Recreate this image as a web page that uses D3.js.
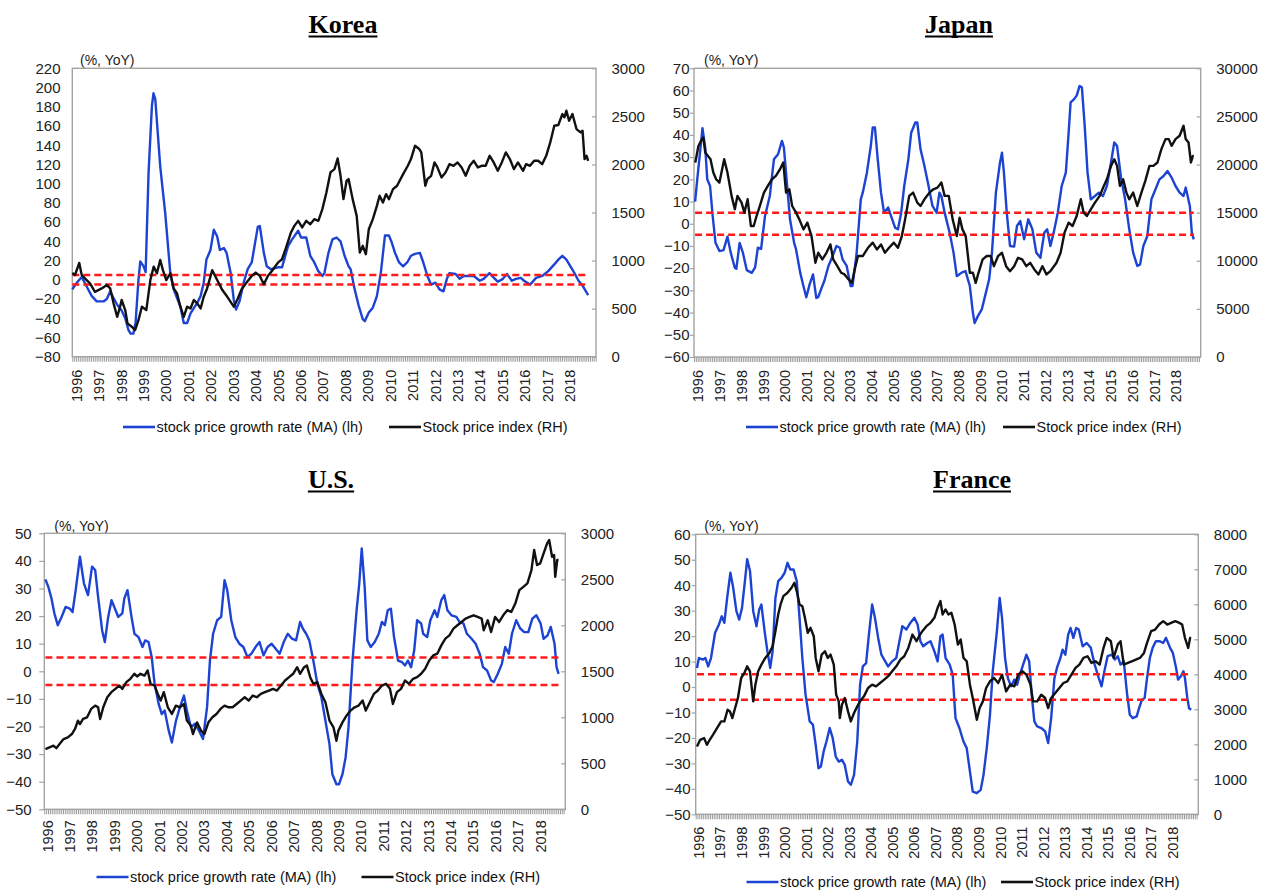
<!DOCTYPE html>
<html><head><meta charset="utf-8">
<script src="https://cdn.jsdelivr.net/npm/d3@7"></script>
<style>
html,body{margin:0;padding:0;background:#fff;}
svg{display:block;}
</style></head><body>
<svg id="c" width="1264" height="891"></svg>
<script>
// ---------------- DATA (time in decimal years, value) ----------------
const years = [1996,1997,1998,1999,2000,2001,2002,2003,2004,2005,2006,2007,2008,2009,2010,2011,2012,2013,2014,2015,2016,2017,2018];
const bands = [5,-5];

const korLeftTicks = [-80,-60,-40,-20,0,20,40,60,80,100,120,140,160,180,200,220];
const korRightTicks = [0,500,1000,1500,2000,2500,3000];
const jpnLeftTicks = [-60,-50,-40,-30,-20,-10,0,10,20,30,40,50,60,70];
const jpnRightTicks = [0,5000,10000,15000,20000,25000,30000];
const usLeftTicks = [-50,-40,-30,-20,-10,0,10,20,30,40,50];
const usRightTicks = [0,500,1000,1500,2000,2500,3000];
const fraLeftTicks = [-50,-40,-30,-20,-10,0,10,20,30,40,50,60];
const fraRightTicks = [0,1000,2000,3000,4000,5000,6000,7000,8000];

const korRate = [[1996.00,-10],[1996.20,-3],[1996.42,3],[1996.64,-7],[1996.87,-17],[1997.09,-22.5],[1997.39,-22.5],[1997.54,-20],[1997.69,-12],[1997.84,-19],[1998.0,-26],[1998.2,-32],[1998.36,-40],[1998.5,-52],[1998.6,-56],[1998.72,-56],[1998.82,-45],[1998.95,0],[1999.03,19],[1999.18,14],[1999.27,8],[1999.4,111],[1999.55,181],[1999.62,194],[1999.7,188],[1999.92,118],[2000.14,70],[2000.37,7],[2000.52,-10],[2000.82,-28],[2000.97,-45],[2001.12,-45],[2001.27,-35],[2001.57,-24],[2001.72,-17],[2001.86,-3],[2001.98,21],[2002.16,31],[2002.31,52],[2002.46,45],[2002.58,31],[2002.76,33],[2002.88,28],[2003.06,7],[2003.2,-21],[2003.3,-31],[2003.46,-22],[2003.64,-3],[2003.82,11],[2004.0,18],[2004.27,55],[2004.36,56],[2004.54,28],[2004.67,14],[2004.85,11],[2005.17,13],[2005.35,13],[2005.62,35],[2005.8,42],[2006.07,51],[2006.2,44],[2006.43,44],[2006.61,25],[2006.79,18],[2006.97,9],[2007.15,4],[2007.24,7],[2007.42,28],[2007.6,42],[2007.78,44],[2007.96,40],[2008.14,25],[2008.32,14],[2008.41,11],[2008.59,-10],[2008.77,-27],[2008.95,-41],[2009.04,-43],[2009.22,-34],[2009.4,-29],[2009.58,-17],[2009.76,8],[2009.94,46],[2010.12,46],[2010.24,39],[2010.39,28],[2010.57,18],[2010.75,14],[2010.93,18],[2011.1,25],[2011.28,27],[2011.5,28],[2011.65,18],[2011.83,4],[2012.0,-5],[2012.19,-3],[2012.37,-10],[2012.55,-12],[2012.7,1],[2012.82,7],[2013.09,6],[2013.27,1],[2013.45,4],[2013.63,4],[2013.9,4],[2014.17,-1],[2014.34,1],[2014.6,7],[2014.8,2],[2014.97,-2],[2015.2,1],[2015.38,6],[2015.6,-1],[2015.78,1],[2016.0,2],[2016.14,-1],[2016.41,-5],[2016.68,2],[2016.95,4],[2017.22,9],[2017.49,16],[2017.67,21],[2017.85,25],[2018.03,21],[2018.21,14],[2018.39,7],[2018.57,-1],[2018.75,-6],[2019.0,-16]];

const korIndex = [[1996.0,870],[1996.12,850],[1996.31,975],[1996.42,850],[1996.64,797],[1996.79,762],[1997.01,675],[1997.31,710],[1997.54,745],[1997.69,710],[1997.84,555],[1998.0,415],[1998.13,520],[1998.2,590],[1998.36,485],[1998.46,347],[1998.65,312],[1998.8,277],[1998.95,380],[1999.1,520],[1999.3,485],[1999.48,797],[1999.63,937],[1999.77,867],[1999.92,1006],[2000.04,900],[2000.19,797],[2000.37,867],[2000.52,710],[2000.67,658],[2000.82,520],[2000.97,415],[2001.12,520],[2001.27,502],[2001.42,590],[2001.57,555],[2001.72,502],[2001.86,623],[2002.01,710],[2002.24,900],[2002.46,797],[2002.69,693],[2002.91,623],[2003.2,520],[2003.37,600],[2003.55,701],[2003.77,771],[2004.0,840],[2004.18,875],[2004.36,840],[2004.54,753],[2004.72,840],[2004.9,892],[2005.17,979],[2005.35,1014],[2005.53,1135],[2005.75,1292],[2005.9,1361],[2006.07,1413],[2006.25,1344],[2006.43,1413],[2006.61,1378],[2006.79,1431],[2006.97,1413],[2007.15,1535],[2007.33,1708],[2007.51,1917],[2007.69,1951],[2007.83,2062],[2007.96,1882],[2008.09,1639],[2008.23,1830],[2008.32,1847],[2008.5,1639],[2008.68,1465],[2008.82,1083],[2008.95,1153],[2009.09,1066],[2009.22,1326],[2009.4,1431],[2009.58,1569],[2009.7,1674],[2009.85,1604],[2009.99,1691],[2010.12,1639],[2010.3,1743],[2010.48,1778],[2010.75,1899],[2010.96,1986],[2011.1,2056],[2011.28,2194],[2011.47,2160],[2011.56,2125],[2011.74,1778],[2011.83,1847],[2012.0,1882],[2012.15,2021],[2012.28,1969],[2012.46,1865],[2012.64,1917],[2012.82,2003],[2013.0,1986],[2013.18,2021],[2013.36,1969],[2013.54,1882],[2013.72,1986],[2013.9,2038],[2014.08,1969],[2014.25,1986],[2014.43,1986],[2014.61,2090],[2014.79,2021],[2014.97,1934],[2015.15,2021],[2015.33,2125],[2015.51,2056],[2015.69,1951],[2015.87,2021],[2016.1,1934],[2016.23,2003],[2016.41,1986],[2016.59,2038],[2016.77,2038],[2016.95,2003],[2017.13,2090],[2017.31,2229],[2017.49,2403],[2017.67,2410],[2017.85,2524],[2017.94,2490],[2018.03,2559],[2018.15,2455],[2018.3,2524],[2018.48,2368],[2018.66,2333],[2018.75,2351],[2018.84,2056],[2018.93,2090],[2019.0,2038]];

const jpnRate = [[1996.05,10],[1996.15,20],[1996.39,43],[1996.52,34],[1996.61,20],[1996.74,17],[1996.86,3.5],[1996.99,-8.6],[1997.17,-12.3],[1997.36,-11.9],[1997.54,-5.8],[1997.69,-13],[1997.88,-19.8],[1997.95,-20.3],[1998.1,-8.6],[1998.25,-13],[1998.43,-20.9],[1998.66,-22.1],[1998.81,-19.8],[1998.94,-10.8],[1999.09,-11.3],[1999.27,3.5],[1999.49,12.5],[1999.68,29],[1999.87,31.3],[2000.05,37.3],[2000.14,34.3],[2000.29,17],[2000.42,2],[2000.61,-8.6],[2000.7,-11.6],[2000.89,-22],[2001.04,-28.1],[2001.17,-33.1],[2001.32,-27.4],[2001.48,-22.8],[2001.63,-33.4],[2001.72,-33],[2001.91,-28],[2002.0,-25.8],[2002.19,-19],[2002.38,-14.6],[2002.56,-10],[2002.71,-10.8],[2002.84,-16],[2003.03,-19],[2003.21,-28],[2003.3,-28],[2003.49,-13],[2003.68,11],[2003.77,14],[2003.96,23],[2004.14,35],[2004.23,43.4],[2004.33,43.4],[2004.46,29],[2004.61,14],[2004.75,5],[2004.94,7.3],[2005.07,3.5],[2005.26,-1.8],[2005.39,-2.5],[2005.54,5],[2005.68,17],[2005.87,29],[2006.0,41],[2006.19,45.6],[2006.28,45.6],[2006.43,33.6],[2006.61,26],[2006.8,17],[2006.98,8],[2007.17,5],[2007.3,14],[2007.39,12.5],[2007.54,5],[2007.77,-4],[2007.95,-13],[2008.1,-23.6],[2008.32,-22],[2008.5,-21.3],[2008.7,-28],[2008.84,-40],[2008.92,-44.7],[2009.07,-41.6],[2009.25,-38.6],[2009.44,-31],[2009.59,-25],[2009.72,-13],[2009.9,14],[2010.09,27.6],[2010.18,32],[2010.27,23],[2010.4,5],[2010.55,-10],[2010.74,-10.3],[2010.87,-1],[2011.02,1.2],[2011.2,-7],[2011.39,2],[2011.58,-2.5],[2011.76,-13],[2011.95,-15.3],[2012.13,-4],[2012.26,-2.5],[2012.41,-10],[2012.56,-4],[2012.75,5],[2012.93,17],[2013.12,23],[2013.25,41],[2013.34,54.7],[2013.49,56],[2013.62,57.7],[2013.75,62],[2013.86,61.4],[2013.99,44],[2014.12,23],[2014.27,11],[2014.46,12.5],[2014.64,14],[2014.83,12.5],[2015.01,17],[2015.2,27.6],[2015.35,36.6],[2015.48,35],[2015.67,20],[2015.85,11],[2016.04,-2.5],[2016.22,-13],[2016.41,-19],[2016.54,-18.3],[2016.69,-10],[2016.87,-5.6],[2017.06,11],[2017.25,15.5],[2017.43,20],[2017.62,21.5],[2017.8,23.8],[2017.99,20.8],[2018.17,17],[2018.36,14],[2018.54,12.5],[2018.64,16.3],[2018.83,8],[2018.92,-4],[2019.01,-7]];

const jpnIndex = [[1996.06,20200],[1996.2,21900],[1996.33,22500],[1996.43,22800],[1996.52,21250],[1996.64,20900],[1996.76,20550],[1996.89,19170],[1997.02,18470],[1997.17,18130],[1997.39,20550],[1997.54,19170],[1997.73,16740],[1997.88,15350],[1998.0,16740],[1998.19,16040],[1998.32,15000],[1998.47,16390],[1998.62,13610],[1998.75,13610],[1998.88,14650],[1999.03,15690],[1999.22,17080],[1999.4,17780],[1999.59,18470],[1999.77,18820],[1999.96,19510],[2000.11,20210],[2000.24,17080],[2000.39,17430],[2000.52,15690],[2000.7,15000],[2000.85,14300],[2001.04,13260],[2001.22,13960],[2001.41,12570],[2001.59,9790],[2001.72,10830],[2001.91,10140],[2002.1,10830],[2002.28,11700],[2002.41,10140],[2002.6,9440],[2002.78,8750],[2002.93,8580],[2003.12,8060],[2003.27,7710],[2003.4,9100],[2003.55,10490],[2003.77,10490],[2004.01,11350],[2004.23,11880],[2004.42,11180],[2004.61,11700],[2004.79,10830],[2004.98,11350],[2005.2,11880],[2005.39,11350],[2005.57,12570],[2005.72,14300],[2005.91,16740],[2006.09,17080],[2006.28,16040],[2006.43,15690],[2006.61,16390],[2006.84,17080],[2007.02,17430],[2007.21,17600],[2007.39,18130],[2007.54,16740],[2007.73,16740],[2007.91,14300],[2008.1,12570],[2008.23,14480],[2008.36,13260],[2008.51,12570],[2008.7,8750],[2008.84,8750],[2008.97,7710],[2009.1,8750],[2009.29,10140],[2009.48,10490],[2009.66,10490],[2009.81,9440],[2010.0,10490],[2010.18,10830],[2010.37,9440],[2010.55,8920],[2010.74,9440],[2010.92,10310],[2011.11,10140],[2011.3,9440],[2011.48,9790],[2011.67,9100],[2011.86,8580],[2012.04,9440],[2012.23,8580],[2012.41,8920],[2012.69,9790],[2012.88,10830],[2013.06,12920],[2013.25,13960],[2013.43,13610],[2013.62,14650],[2013.81,16390],[2013.94,15000],[2014.09,14650],[2014.27,15350],[2014.46,16040],[2014.68,16740],[2014.87,17780],[2015.01,18470],[2015.2,19860],[2015.35,20550],[2015.48,19860],[2015.61,17780],[2015.76,18470],[2015.91,17080],[2016.04,16390],[2016.22,17080],[2016.41,15690],[2016.6,17080],[2016.78,18300],[2016.97,19860],[2017.15,19860],[2017.34,20210],[2017.52,21600],[2017.71,22640],[2017.86,22640],[2017.99,21940],[2018.17,22640],[2018.36,22990],[2018.54,24030],[2018.64,22640],[2018.77,22290],[2018.88,20210],[2018.97,20900],[2019.01,20900]];

const usRate = [[1996.05,33.3],[1996.18,30.6],[1996.32,26.4],[1996.45,21],[1996.6,16.7],[1996.77,19.7],[1996.95,23.3],[1997.14,22.7],[1997.26,21.5],[1997.4,29.4],[1997.59,41.5],[1997.77,31.8],[1997.95,27.6],[1998.13,37.9],[1998.27,36.7],[1998.4,27],[1998.58,14.8],[1998.7,10.6],[1998.85,19.7],[1999.0,25.8],[1999.12,23.3],[1999.3,19.7],[1999.48,21],[1999.57,26.4],[1999.71,29.4],[1999.89,19.7],[2000.02,13.6],[2000.2,12.4],[2000.38,8.8],[2000.5,11.2],[2000.65,10.6],[2000.79,5.2],[2000.92,-4.5],[2001.1,-11.8],[2001.24,-15.5],[2001.37,-14.2],[2001.55,-21.5],[2001.69,-25.8],[2001.87,-18],[2002.05,-13],[2002.23,-8.8],[2002.36,-14.2],[2002.54,-20.3],[2002.72,-19],[2002.9,-21.5],[2003.08,-24.5],[2003.26,-13],[2003.39,4],[2003.53,13.6],[2003.71,18.5],[2003.89,19.7],[2004.04,33],[2004.16,29.4],[2004.34,18.5],[2004.52,12.4],[2004.7,10],[2004.88,8.8],[2005.06,5.2],[2005.24,6.4],[2005.42,8.8],[2005.6,10.6],[2005.78,5.8],[2005.96,8.8],[2006.14,10],[2006.32,8.2],[2006.5,6.4],[2006.68,10.6],[2006.86,13.6],[2007.05,11.8],[2007.23,11.2],[2007.41,17.9],[2007.53,15.5],[2007.68,13.6],[2007.82,11.2],[2008.0,3.9],[2008.18,-4.5],[2008.36,-9.4],[2008.54,-17.9],[2008.72,-26.4],[2008.85,-37.3],[2009.03,-40.9],[2009.15,-40.9],[2009.3,-37.3],[2009.44,-31.2],[2009.57,-20.3],[2009.75,3.9],[2009.93,22.1],[2010.05,31.8],[2010.16,44.5],[2010.29,30.6],[2010.41,11.2],[2010.56,8.8],[2010.74,10.6],[2010.92,13.6],[2011.06,17.9],[2011.19,16.7],[2011.32,22.1],[2011.46,22.7],[2011.6,12.4],[2011.78,3.9],[2011.96,3.3],[2012.09,2.1],[2012.22,3.9],[2012.36,1.5],[2012.5,7.6],[2012.63,18.5],[2012.81,17.3],[2012.9,13.6],[2013.08,12.4],[2013.22,18.5],[2013.41,22.1],[2013.53,19.7],[2013.71,25.8],[2013.84,27.6],[2013.98,22.1],[2014.16,20.3],[2014.38,19.7],[2014.52,17.9],[2014.7,17.3],[2014.85,13.6],[2015.06,11.8],[2015.24,10],[2015.42,6.4],[2015.57,1.5],[2015.75,0.3],[2015.93,-3.3],[2016.05,-3.9],[2016.23,-0.9],[2016.41,2.7],[2016.56,8.8],[2016.72,6.4],[2016.86,13.6],[2017.05,18.5],[2017.23,15.5],[2017.41,14.2],[2017.59,14.2],[2017.77,19.1],[2017.95,20.3],[2018.14,17.3],[2018.27,11.8],[2018.45,13],[2018.59,16.1],[2018.76,10],[2018.85,1.5],[2018.94,-0.9]];

const usIndex = [[1996.05,654],[1996.23,673],[1996.41,691],[1996.54,665],[1996.68,709],[1996.86,764],[1997.05,782],[1997.23,818],[1997.37,873],[1997.5,964],[1997.59,927],[1997.73,982],[1997.91,1000],[1998.09,1091],[1998.27,1127],[1998.4,1109],[1998.49,982],[1998.63,1109],[1998.81,1218],[1998.99,1273],[1999.17,1309],[1999.35,1345],[1999.48,1309],[1999.66,1382],[1999.84,1418],[2000.02,1473],[2000.14,1444],[2000.29,1473],[2000.47,1454],[2000.61,1509],[2000.74,1364],[2000.92,1345],[2001.06,1254],[2001.19,1182],[2001.33,1273],[2001.51,1109],[2001.69,1036],[2001.87,1127],[2002.05,1109],[2002.23,1145],[2002.36,964],[2002.54,909],[2002.63,818],[2002.81,945],[2002.99,855],[2003.14,818],[2003.32,945],[2003.5,1000],[2003.68,1036],[2003.86,1091],[2004.04,1127],[2004.22,1109],[2004.4,1109],[2004.58,1145],[2004.76,1182],[2004.94,1218],[2005.12,1182],[2005.3,1236],[2005.48,1218],[2005.66,1254],[2005.84,1273],[2006.02,1291],[2006.2,1309],[2006.38,1291],[2006.56,1345],[2006.74,1400],[2006.92,1436],[2007.1,1473],[2007.28,1545],[2007.41,1473],[2007.59,1545],[2007.71,1564],[2007.86,1436],[2008.0,1364],[2008.18,1382],[2008.36,1254],[2008.54,1164],[2008.72,964],[2008.9,891],[2009.03,745],[2009.12,855],[2009.3,945],[2009.48,1018],[2009.66,1073],[2009.84,1109],[2010.02,1127],[2010.2,1182],[2010.34,1073],[2010.52,1164],[2010.7,1254],[2010.88,1291],[2011.06,1345],[2011.24,1364],[2011.42,1309],[2011.55,1145],[2011.73,1273],[2011.91,1309],[2012.09,1400],[2012.27,1364],[2012.45,1418],[2012.63,1436],[2012.81,1473],[2012.99,1527],[2013.17,1618],[2013.35,1673],[2013.53,1691],[2013.71,1782],[2013.89,1855],[2014.07,1891],[2014.25,1964],[2014.43,2000],[2014.61,2036],[2014.79,2073],[2014.97,2091],[2015.15,2109],[2015.33,2091],[2015.51,2073],[2015.6,1945],[2015.78,2055],[2015.93,1927],[2016.11,2091],[2016.29,2036],[2016.47,2109],[2016.65,2164],[2016.83,2145],[2017.01,2236],[2017.19,2382],[2017.37,2418],[2017.55,2455],[2017.73,2600],[2017.85,2818],[2017.98,2655],[2018.12,2673],[2018.3,2800],[2018.43,2891],[2018.52,2927],[2018.65,2745],[2018.74,2764],[2018.79,2527],[2018.88,2709],[2018.94,2709]];

const fraRate = [[1996.06,7.5],[1996.15,11.4],[1996.34,10.8],[1996.45,11.4],[1996.58,8.1],[1996.71,11.4],[1996.9,21.3],[1997.08,24.6],[1997.21,27.8],[1997.33,25.2],[1997.46,35],[1997.61,44.9],[1997.74,39],[1997.89,29.8],[1998.02,26.5],[1998.15,31.1],[1998.3,42.9],[1998.39,50.2],[1998.52,45.6],[1998.67,29.8],[1998.82,23.9],[1998.95,30.5],[1999.05,32.4],[1999.2,21.9],[1999.33,14],[1999.46,7.5],[1999.57,14],[1999.7,35],[1999.83,41.6],[1999.98,42.9],[2000.13,44.9],[2000.26,48.8],[2000.39,46.2],[2000.54,46.2],[2000.69,41.6],[2000.82,27.2],[2000.95,11.4],[2001.1,-3],[2001.29,-13.5],[2001.44,-14.8],[2001.57,-22.7],[2001.7,-31.9],[2001.81,-31.2],[2001.94,-25.3],[2002.07,-21.4],[2002.22,-16.1],[2002.36,-20.1],[2002.5,-27.3],[2002.64,-29.3],[2002.79,-28.6],[2002.92,-30.6],[2003.07,-37.1],[2003.2,-38.4],[2003.35,-34.5],[2003.5,-21.4],[2003.63,0.9],[2003.76,8.1],[2003.91,9.4],[2004.04,20.6],[2004.19,32.4],[2004.32,27.2],[2004.47,19.3],[2004.62,12.7],[2004.75,10.8],[2004.93,8.1],[2005.12,10.1],[2005.31,11.4],[2005.44,17.3],[2005.59,23.9],[2005.78,22.6],[2005.96,25.2],[2006.15,27.2],[2006.3,24.6],[2006.43,18],[2006.56,16],[2006.75,17.3],[2006.9,18],[2007.08,14],[2007.23,10.1],[2007.36,20],[2007.46,20.6],[2007.6,11.4],[2007.79,8.8],[2007.93,4.9],[2008.06,-12.2],[2008.24,-16.1],[2008.43,-21.4],[2008.58,-24],[2008.73,-33.2],[2008.86,-41.1],[2009.05,-41.7],[2009.23,-40.4],[2009.36,-34.5],[2009.51,-24],[2009.66,-10.9],[2009.79,6.2],[2009.98,21.9],[2010.11,35],[2010.22,27.2],[2010.36,11.4],[2010.49,3.5],[2010.64,0.3],[2010.79,2.9],[2010.92,0.9],[2011.05,4.9],[2011.2,8.8],[2011.35,12.7],[2011.48,10.1],[2011.61,-4.3],[2011.72,-13.5],[2011.85,-15.5],[2012.04,-16.1],[2012.22,-17.4],[2012.36,-22],[2012.5,-12.2],[2012.65,3.5],[2012.79,8.1],[2012.93,11.4],[2013.03,14.7],[2013.16,12.7],[2013.29,20.6],[2013.4,23.2],[2013.53,19.3],[2013.66,23.2],[2013.78,22.6],[2013.96,16],[2014.15,17.3],[2014.34,15.4],[2014.52,8.8],[2014.71,3.5],[2014.84,0.3],[2014.97,6.2],[2015.12,12.1],[2015.31,12.7],[2015.46,10.8],[2015.59,12.1],[2015.72,8.8],[2015.87,10.1],[2016.02,-2.4],[2016.15,-10.9],[2016.29,-12.2],[2016.47,-11.5],[2016.58,-8.3],[2016.71,-5],[2016.84,-4.3],[2016.95,3.5],[2017.08,11.4],[2017.21,15.4],[2017.36,18],[2017.55,18],[2017.7,17.3],[2017.83,19.3],[2018.02,15.4],[2018.15,13.4],[2018.3,7.5],[2018.39,2.9],[2018.52,4.2],[2018.64,6.2],[2018.71,3.5],[2018.82,-4.3],[2018.9,-8.3],[2019.0,-8.9]];

const fraIndex = [[1996.06,1938],[1996.21,2129],[1996.39,2177],[1996.52,1986],[1996.65,2129],[1996.8,2272],[1996.99,2463],[1997.18,2654],[1997.33,2654],[1997.48,2988],[1997.59,2940],[1997.7,2749],[1997.83,3036],[1997.96,3322],[1998.11,3895],[1998.26,4038],[1998.39,4229],[1998.52,4086],[1998.67,3227],[1998.77,3704],[1998.9,4086],[1999.05,4277],[1999.23,4468],[1999.42,4611],[1999.57,4802],[1999.7,5231],[1999.83,5709],[1999.94,5995],[2000.07,6234],[2000.26,6329],[2000.45,6473],[2000.58,6616],[2000.69,6377],[2000.82,5995],[2000.95,5947],[2001.07,5613],[2001.2,5184],[2001.33,5327],[2001.48,5088],[2001.57,4468],[2001.7,4086],[2001.85,4563],[2002.0,4659],[2002.13,4468],[2002.26,4563],[2002.41,4277],[2002.52,3418],[2002.64,3227],[2002.69,2749],[2002.79,3131],[2002.92,3322],[2003.07,2940],[2003.2,2654],[2003.35,2893],[2003.5,3083],[2003.63,3227],[2003.81,3370],[2004.0,3609],[2004.19,3704],[2004.37,3656],[2004.56,3752],[2004.75,3847],[2004.93,3943],[2005.12,4086],[2005.31,4229],[2005.5,4420],[2005.68,4516],[2005.87,4754],[2006.06,5136],[2006.25,4945],[2006.37,5088],[2006.52,5231],[2006.71,5375],[2006.9,5470],[2007.08,5613],[2007.23,5900],[2007.36,6091],[2007.46,5709],[2007.6,5852],[2007.73,5709],[2007.87,5756],[2008.02,5422],[2008.17,4850],[2008.3,4993],[2008.43,4468],[2008.58,4372],[2008.73,3704],[2008.86,3322],[2009.05,2702],[2009.18,3036],[2009.33,3227],[2009.48,3609],[2009.66,3800],[2009.85,3895],[2010.04,3752],[2010.22,3990],[2010.41,3513],[2010.6,3704],[2010.79,3656],[2010.97,3990],[2011.16,4086],[2011.35,3990],[2011.54,3704],[2011.66,3227],[2011.85,3227],[2012.04,3418],[2012.22,3322],[2012.36,3036],[2012.5,3322],[2012.69,3465],[2012.88,3609],[2013.07,3752],[2013.25,3800],[2013.44,3990],[2013.63,4181],[2013.81,4277],[2014.0,4468],[2014.19,4516],[2014.37,4325],[2014.56,4372],[2014.75,4277],[2014.93,4754],[2015.08,5041],[2015.27,4945],[2015.4,4468],[2015.59,4850],[2015.72,4945],[2015.87,4277],[2016.06,4325],[2016.24,4372],[2016.43,4420],[2016.62,4468],[2016.81,4611],[2016.95,4897],[2017.14,5231],[2017.33,5279],[2017.51,5422],[2017.7,5518],[2017.89,5422],[2018.07,5470],[2018.26,5518],[2018.45,5470],[2018.58,5422],[2018.71,5041],[2018.86,4754],[2018.95,5041],[2019.0,5041]];

const legendRate = "stock price growth rate (MA) (lh)";
const legendIndex = "Stock price index (RH)";
const unitText = "(%, YoY)";

// ---------------- LAYOUT ----------------
const panels = [
  {title:"Korea", rate:korRate, index:korIndex, lt:korLeftTicks, rt:korRightTicks,
   x0:72.3, x1:596, y0:68.3, y1:356.7, xEnd:2019.35, titleX:343, titleY:33,
   unitX:80, unitY:65, lTick:0, lPad:11.8, yearGap:13, yearDx:4.2, legY:427, legA:123, legB:389},
  {title:"Japan", rate:jpnRate, index:jpnIndex, lt:jpnLeftTicks, rt:jpnRightTicks,
   x0:694, x1:1200.7, y0:68.3, y1:357, xEnd:2019.33, titleX:959, titleY:33,
   unitX:704, unitY:65, lTick:4, lPad:0.5, yearGap:13, yearDx:4.2, legY:427, legA:746, legB:1003},
  {title:"U.S.", rate:usRate, index:usIndex, lt:usLeftTicks, rt:usRightTicks,
   x0:44.3, x1:565.3, y0:533.3, y1:809.3, xEnd:2019.24, titleX:331, titleY:488,
   unitX:54.3, unitY:531, lTick:5, lPad:7.6, yearGap:11, yearDx:3, legY:877, legA:96.5, legB:361.5},
  {title:"France", rate:fraRate, index:fraIndex, lt:fraLeftTicks, rt:fraRightTicks,
   x0:695.7, x1:1198.3, y0:534.3, y1:814.3, xEnd:2019.33, titleX:972, titleY:488,
   unitX:704.3, unitY:531, lTick:4, lPad:1, yearGap:12.3, yearDx:3, legY:882, legA:746.5, legB:1001}
];

const SANS = "'Liberation Sans', Arial, sans-serif";
const BLUE = "#1d43d3", BLACK = "#111111", RED = "#ff1a1a", FRAME = "#a3a3a3";
const svg = d3.select("#c");
const fmt = d3.format("d");

function drawPanel(p){
  const g = svg.append("g");
  const x = d3.scaleLinear().domain([1996, p.xEnd]).range([p.x0, p.x1]);
  const yL = d3.scaleLinear().domain(d3.extent(p.lt)).range([p.y1, p.y0]);
  const yR = d3.scaleLinear().domain(d3.extent(p.rt)).range([p.y1, p.y0]);

  // title
  const t = g.append("text").attr("x", p.titleX).attr("y", p.titleY)
    .attr("text-anchor","middle").attr("font-family","'Liberation Serif', 'Times New Roman', serif")
    .attr("font-weight","bold").attr("font-size",26).attr("fill","#000").text(p.title);
  const tw = t.node().getComputedTextLength();
  g.append("line").attr("x1", p.titleX - tw/2).attr("x2", p.titleX + tw/2)
    .attr("y1", p.titleY + 3.5).attr("y2", p.titleY + 3.5).attr("stroke","#000").attr("stroke-width",2);

  // unit label
  g.append("text").attr("x", p.unitX).attr("y", p.unitY).attr("font-family", SANS)
    .attr("font-size",14).attr("fill","#222").text(unitText);

  // monthly tick marks along bottom
  const nMonths = Math.floor((p.xEnd - 1996) * 12 + 1e-6);
  const months = d3.range(0, nMonths + 1).map(k => 1996 + k/12);
  const bx = g.append("g").attr("transform", `translate(0,${p.y1})`)
    .call(d3.axisBottom(x).tickValues(months).tickSize(5).tickFormat(""));
  bx.select(".domain").remove();
  bx.selectAll("line").attr("stroke","#8f8f8f").attr("stroke-width",0.9);

  // year labels
  g.append("g").selectAll("text").data(years).join("text")
    .attr("transform", d => `translate(${x(d) + p.yearDx},${p.y1 + p.yearGap}) rotate(-90)`)
    .attr("text-anchor","end").attr("dy","0.36em")
    .attr("font-family", SANS).attr("font-size",14.5).attr("fill","#222")
    .text(d => d);

  // left axis
  const la = g.append("g").attr("transform", `translate(${p.x0},0)`)
    .call(d3.axisLeft(yL).tickValues(p.lt).tickSize(p.lTick).tickPadding(p.lPad).tickFormat(fmt));
  la.select(".domain").remove();
  la.selectAll("line").attr("stroke", FRAME).attr("stroke-width",1.2);
  la.selectAll("text").attr("font-family", SANS).attr("font-size",15).attr("fill","#222");

  // right axis
  const ra = g.append("g").attr("transform", `translate(${p.x1},0)`)
    .call(d3.axisRight(yR).tickValues(p.rt).tickSize(-4).tickPadding(15.5).tickFormat(fmt));
  ra.select(".domain").remove();
  ra.selectAll("line").attr("stroke", FRAME).attr("stroke-width",1.2);
  ra.selectAll("text").attr("font-family", SANS).attr("font-size",15).attr("fill","#222");

  // frame
  g.append("rect").attr("x", p.x0).attr("y", p.y0).attr("width", p.x1 - p.x0).attr("height", p.y1 - p.y0)
    .attr("fill","none").attr("stroke", FRAME).attr("stroke-width",1.4);

  const lineL = d3.line().x(d => x(d[0])).y(d => yL(d[1])).curve(d3.curveLinear);
  const lineR = d3.line().x(d => x(d[0])).y(d => yR(d[1])).curve(d3.curveLinear);

  // blue growth rate
  g.append("path").datum(p.rate).attr("d", lineL).attr("fill","none")
    .attr("stroke", BLUE).attr("stroke-width",2.4).attr("stroke-linejoin","round");

  // red dashed bands
  const tStart = p.rate[0][0], tEnd = p.rate[p.rate.length-1][0];
  bands.forEach(b => {
    g.append("path").datum([[tStart,b],[tEnd,b]]).attr("d", lineL).attr("fill","none")
      .attr("stroke", RED).attr("stroke-width",2.5).attr("stroke-dasharray","7,4");
  });

  // black index
  g.append("path").datum(p.index).attr("d", lineR).attr("fill","none")
    .attr("stroke", BLACK).attr("stroke-width",2.4).attr("stroke-linejoin","round");

  // legend
  const lg = g.append("g");
  lg.append("line").attr("x1", p.legA).attr("x2", p.legA + 32).attr("y1", p.legY).attr("y2", p.legY)
    .attr("stroke", BLUE).attr("stroke-width",2.6);
  lg.append("text").attr("x", p.legA + 33.5).attr("y", p.legY + 5).attr("font-family", SANS)
    .attr("font-size",14.5).attr("fill","#111").text(legendRate);
  lg.append("line").attr("x1", p.legB).attr("x2", p.legB + 32).attr("y1", p.legY).attr("y2", p.legY)
    .attr("stroke", BLACK).attr("stroke-width",2.6);
  lg.append("text").attr("x", p.legB + 33.5).attr("y", p.legY + 5).attr("font-family", SANS)
    .attr("font-size",14.5).attr("fill","#111").text(legendIndex);
}

panels.forEach(drawPanel);
</script>
</body></html>
